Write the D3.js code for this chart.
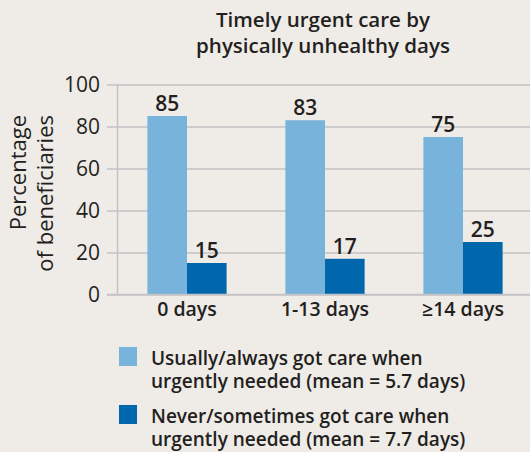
<!DOCTYPE html>
<html>
<head>
<meta charset="utf-8">
<script src="https://cdn.jsdelivr.net/npm/d3@7"></script>
<style>
  body { margin: 0; background: #efebe7; }
  svg { display: block; font-family: "Open Sans", sans-serif; }
</style>
</head>
<body>
<svg width="530" height="452"></svg>
<script>
// data
var categories = ['0 days', '1-13 days', '\u226514 days'];
var seriesNames = [
  'Usually/always got care when|urgently needed (mean = 5.7 days)',
  'Never/sometimes got care when|urgently needed (mean = 7.7 days)'
];
var usuallyValues = [85, 83, 75];
var neverValues = [15, 17, 25];
var yTicks = [0, 20, 40, 60, 80, 100];
var colors = ['#78b3dc', '#0067ac'];

var textColor = '#231f20';
var svg = d3.select('svg');

var rows = categories.map(function (c, i) {
  return { cat: c, values: [usuallyValues[i], neverValues[i]] };
});

var y = d3.scaleLinear().domain([0, 100]).range([294.5, 84.5]);
var x0 = d3.scaleBand().domain(categories).range([118, 532]);
var bw = x0.bandwidth();
var x1 = d3.scaleBand().domain([0, 1]).range([bw * 0.213, bw * 0.787]);

//* title
svg.append('text')
  .attr('x', 323).attr('y', 27)
  .attr('text-anchor', 'middle')
  .style('font-size', '20.5px').style('font-weight', 600)
  .style('fill', textColor)
  .selectAll('tspan')
  .data(['Timely urgent care by', 'physically unhealthy days'])
  .enter().append('tspan')
  .attr('x', 323)
  .attr('dy', function (d, i) { return i ? 26 : 0; })
  .text(function (d) { return d; });

//* gridlines + y axis
var yAxis = d3.axisLeft(y).tickValues(yTicks).tickSize(-(532 - 107)).tickPadding(8);
var gy = svg.append('g').attr('transform', 'translate(107,0)').call(yAxis);
gy.select('.domain').remove();
gy.selectAll('.tick line').attr('stroke', '#c3c3c6').attr('stroke-width', 1.5);
gy.selectAll('.tick text')
  .attr('x', -7)
  .style('font-size', '21px').style('font-family', '"Open Sans", sans-serif')
  .style('fill', textColor);

svg.append('line')
  .attr('x1', 117.5).attr('x2', 117.5)
  .attr('y1', y(100)).attr('y2', y(0))
  .attr('stroke', '#c3c3c6').attr('stroke-width', 1.5);

//* y label
svg.append('text')
  .attr('transform', 'translate(0,115) rotate(-90)')
  .attr('text-anchor', 'end')
  .style('font-size', '22px')
  .style('fill', textColor)
  .selectAll('tspan')
  .data(['Percentage', 'of beneficiaries'])
  .enter().append('tspan')
  .attr('x', 0)
  .attr('y', function (d, i) { return i ? 53 : 26; })
  .text(function (d) { return d; });

//* bars
var groups = svg.selectAll('.grp')
  .data(rows)
  .enter().append('g')
  .attr('class', 'grp')
  .attr('transform', function (d) { return 'translate(' + x0(d.cat) + ',0)'; });

groups.selectAll('rect')
  .data(function (d) { return d.values; })
  .enter().append('rect')
  .attr('x', function (d, i) { return x1(i); })
  .attr('y', function (d) { return y(d); })
  .attr('width', x1.bandwidth())
  .attr('height', function (d) { return y(0) - y(d); })
  .style('fill', function (d, i) { return colors[i]; });

groups.selectAll('.val')
  .data(function (d) { return d.values; })
  .enter().append('text')
  .attr('class', 'val')
  .attr('x', function (d, i) { return x1(i) + x1.bandwidth() / 2; })
  .attr('y', function (d) { return y(d) - 5; })
  .attr('text-anchor', 'middle')
  .style('font-size', '21px').style('font-weight', 600)
  .style('fill', textColor)
  .text(function (d) { return d; });

//* x axis line + labels
svg.append('line')
  .attr('x1', 107).attr('x2', 530)
  .attr('y1', y(0)).attr('y2', y(0))
  .attr('stroke', '#c3c3c6').attr('stroke-width', 1.5);

svg.selectAll('.cat')
  .data(categories)
  .enter().append('text')
  .attr('class', 'cat')
  .attr('x', function (d) { return x0(d) + bw / 2; })
  .attr('y', 316)
  .attr('text-anchor', 'middle')
  .style('font-size', '19.5px').style('font-weight', 600)
  .style('fill', textColor)
  .text(function (d) { return d; });

//* legend
var legend = svg.selectAll('.legend')
  .data(seriesNames)
  .enter().append('g')
  .attr('class', 'legend')
  .attr('transform', function (d, i) { return 'translate(119,' + (347 + i * 58) + ')'; });

legend.append('rect')
  .attr('width', 18).attr('height', 19)
  .style('fill', function (d, i) { return colors[i]; });

legend.append('text')
  .style('font-size', '19px').style('font-weight', 600)
  .style('fill', textColor)
  .selectAll('tspan')
  .data(function (d) { return d.split('|'); })
  .enter().append('tspan')
  .attr('x', 32)
  .attr('y', function (d, i) { return 18 + i * 22.5; })
  .text(function (d) { return d; });
</script>
</body>
</html>
